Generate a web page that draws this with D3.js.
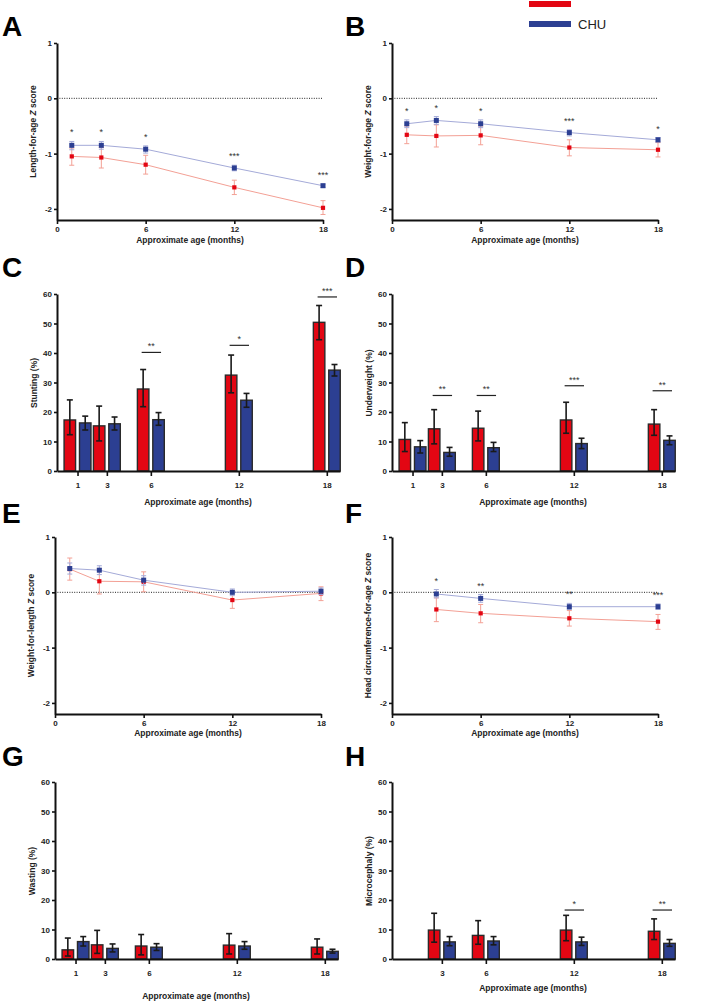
<!DOCTYPE html>
<html lang="en">
<head>
<meta charset="utf-8">
<script src="https://d3js.org/d3.v7.min.js"></script>
<style>
body { margin: 0; background: #fff; font-family: "Liberation Sans", Arial, sans-serif; }
.axis .domain { stroke: #111; stroke-width: 2; }
.axis .tick line { stroke: #111; stroke-width: 1.6; }
.axis .tick text { font-family: "Liberation Sans", Arial, sans-serif; font-weight: bold; font-size: 8px; fill: #222; }
.ttl { font-weight: bold; font-size: 8.5px; fill: #222; }
.letter { font-weight: bold; font-size: 28px; fill: #000; }
.star { font-size: 9px; fill: #333; text-anchor: middle; }
</style>
</head>
<body>
<script>

// legend groups (red has no label in the figure)
var groups = ["", "CHU"];

var monthsAll = [1, 3, 6, 12, 18];
var monthsHC = [3, 6, 12, 18];

// A: length-for-age Z score
var lazRed = [-1.05, -1.07, -1.20, -1.61, -1.98];
var lazRedLo = [-1.21, -1.26, -1.37, -1.74, -2.10];
var lazRedHi = [-0.90, -0.89, -1.03, -1.48, -1.85];
var lazBlue = [-0.85, -0.85, -0.92, -1.26, -1.58];
var lazBlueLo = [-0.93, -0.92, -0.99, -1.31, -1.61];
var lazBlueHi = [-0.78, -0.78, -0.86, -1.21, -1.55];
var lazStars = ["*", "*", "*", "***", "***"];

// B: weight-for-age Z score
var wazRed = [-0.66, -0.68, -0.67, -0.89, -0.93];
var wazRedLo = [-0.82, -0.88, -0.84, -1.04, -1.06];
var wazRedHi = [-0.50, -0.48, -0.50, -0.75, -0.80];
var wazBlue = [-0.46, -0.40, -0.46, -0.62, -0.75];
var wazBlueLo = [-0.53, -0.47, -0.53, -0.68, -0.79];
var wazBlueHi = [-0.39, -0.33, -0.39, -0.57, -0.71];
var wazStars = ["*", "*", "*", "***", "*"];

// C: stunting (%)
var stuRed = [17.3, 15.3, 27.8, 32.5, 50.4];
var stuRedLo = [12.3, 10.2, 21.8, 26.5, 44.5];
var stuRedHi = [24.1, 22.0, 34.4, 39.3, 56.1];
var stuBlue = [16.3, 16.0, 17.4, 24.0, 34.2];
var stuBlueLo = [13.9, 13.9, 15.5, 21.6, 32.2];
var stuBlueHi = [18.6, 18.3, 19.8, 26.3, 36.1];
var stuSig = ["", "", "**", "*", "***"];
var stuSigLevel = [0, 0, 40.2, 42.6, 59.0];

// D: underweight (%)
var undRed = [10.7, 14.3, 14.5, 17.3, 15.9];
var undRedLo = [6.6, 9.2, 10.2, 12.8, 12.1];
var undRedHi = [16.4, 20.8, 20.3, 23.3, 20.8];
var undBlue = [8.2, 6.3, 7.9, 9.3, 10.4];
var undBlueLo = [6.1, 5.0, 6.6, 7.6, 8.9];
var undBlueHi = [10.3, 8.0, 9.7, 11.1, 11.9];
var undSig = ["", "**", "**", "***", "**"];
var undSigLevel = [0, 25.6, 25.6, 28.9, 27.2];

// E: weight-for-length Z score
var wlzRed = [0.42, 0.20, 0.19, -0.14, -0.02];
var wlzRedLo = [0.22, -0.03, 0.01, -0.29, -0.15];
var wlzRedHi = [0.62, 0.43, 0.37, -0.01, 0.10];
var wlzBlue = [0.43, 0.40, 0.22, 0.00, 0.02];
var wlzBlueLo = [0.33, 0.32, 0.13, -0.06, -0.04];
var wlzBlueHi = [0.53, 0.48, 0.30, 0.06, 0.08];
var wlzStars = ["", "", "", "", ""];

// F: head circumference-for-age Z score
var hczRed = [-0.31, -0.38, -0.47, -0.53];
var hczRedLo = [-0.53, -0.55, -0.61, -0.67];
var hczRedHi = [-0.10, -0.22, -0.33, -0.40];
var hczBlue = [-0.03, -0.11, -0.26, -0.26];
var hczBlueLo = [-0.10, -0.18, -0.31, -0.31];
var hczBlueHi = [0.05, -0.04, -0.20, -0.21];
var hczStars = ["*", "**", "**", "***"];

// G: wasting (%)
var wasRed = [3.1, 4.8, 4.4, 4.7, 4.0];
var wasRedLo = [1.0, 1.9, 1.4, 1.7, 1.7];
var wasRedHi = [7.1, 9.7, 8.3, 8.6, 6.8];
var wasBlue = [5.9, 3.6, 4.0, 4.4, 2.6];
var wasBlueLo = [4.4, 2.4, 2.9, 3.3, 2.0];
var wasBlueHi = [7.6, 5.1, 5.2, 5.9, 3.3];
var wasSig = ["", "", "", "", ""];
var wasSigLevel = [0, 0, 0, 0, 0];

// H: microcephaly (%)
var micRed = [9.8, 8.0, 9.8, 9.4];
var micRedLo = [5.7, 5.0, 6.2, 6.6];
var micRedHi = [15.5, 13.0, 14.8, 13.6];
var micBlue = [5.8, 6.1, 5.8, 5.3];
var micBlueLo = [4.5, 4.8, 4.6, 4.3];
var micBlueHi = [7.6, 7.6, 7.4, 6.6];
var micSig = ["", "", "*", "**"];
var micSigLevel = [0, 0, 16.6, 16.6];

var RED = "#e30613", BLUE = "#2c3f92";
var RED_L = "#f3a095", BLUE_L = "#a4aad8";

var svg = d3.select("body").append("svg")
    .attr("width", 723)
    .attr("height", 1002);

function letter(t, x, y) {
  svg.append("text").attr("class", "letter").attr("x", x).attr("y", y).text(t);
}

function yTitle(x, y, parts) {
  var t = svg.append("text").attr("class", "ttl")
      .attr("text-anchor", "middle")
      .attr("transform", "translate(" + x + "," + y + ") rotate(-90)");
  parts.forEach(function(p) {
    t.append("tspan").style("font-style", p[1] ? "italic" : null).text(p[0]);
  });
}

function xTitle(x, y) {
  svg.append("text").attr("class", "ttl").attr("text-anchor", "middle")
    .attr("x", x).attr("y", y).text("Approximate age (months)");
}

// Z-score line panel
function zPanel(left, top, months, series, stars, ytitle, titleGap) {
  var bottom = top + 177;
  var x = d3.scaleLinear().domain([0, 18]).range([left, left + 266]);
  var y = d3.scaleLinear().domain([-2.2, 1]).range([bottom, top]);
  var g = svg.append("g");

  g.append("line")
    .attr("x1", x(0)).attr("x2", x(18))
    .attr("y1", y(0)).attr("y2", y(0))
    .attr("stroke", "#222").attr("stroke-width", 1)
    .attr("stroke-dasharray", "1,1.4");

  series.forEach(function(s) {
    var pts = months.map(function(m, i) { return {m: m, v: s.v[i], lo: s.lo[i], hi: s.hi[i]}; });
    g.append("path")
      .attr("d", d3.line().x(function(d) { return x(d.m); }).y(function(d) { return y(d.v); })(pts))
      .attr("fill", "none").attr("stroke", s.light).attr("stroke-width", 1);
    var eb = g.selectAll(null).data(pts).enter().append("g");
    eb.append("line").attr("x1", function(d) { return x(d.m); }).attr("x2", function(d) { return x(d.m); })
      .attr("y1", function(d) { return y(d.lo); }).attr("y2", function(d) { return y(d.hi); })
      .attr("stroke", s.light).attr("stroke-width", 1);
    [ "lo", "hi" ].forEach(function(k) {
      eb.append("line").attr("x1", function(d) { return x(d.m) - 2.5; }).attr("x2", function(d) { return x(d.m) + 2.5; })
        .attr("y1", function(d) { return y(d[k]); }).attr("y2", function(d) { return y(d[k]); })
        .attr("stroke", s.light).attr("stroke-width", 1);
    });
    g.selectAll(null).data(pts).enter().append("rect")
      .attr("x", function(d) { return x(d.m) - s.size / 2; })
      .attr("y", function(d) { return y(d.v) - s.size / 2; })
      .attr("width", s.size).attr("height", s.size)
      .attr("fill", s.color);
  });

  g.selectAll(null).data(months).enter().append("text")
    .attr("class", "star")
    .attr("x", function(m) { return x(m); })
    .attr("y", function(m, i) {
      return y(Math.max(series[0].hi[i], series[1].hi[i])) - 6;
    })
    .text(function(m, i) { return stars[i]; });

  g.append("g").attr("class", "axis")
    .attr("transform", "translate(" + left + ",0)")
    .call(d3.axisLeft(y).tickValues([-2, -1, 0, 1]).tickSize(3).tickSizeOuter(0).tickPadding(2)
      .tickFormat(function(d) { return String(d); }));
  g.append("g").attr("class", "axis")
    .attr("transform", "translate(0," + bottom + ")")
    .call(d3.axisBottom(x).tickValues([0, 6, 12, 18]).tickSize(4).tickSizeOuter(0).tickPadding(2));

  yTitle(left - 21, (top + bottom) / 2, ytitle);
  xTitle(x(9), bottom + titleGap);
}

// percentage bar panel
function pctPanel(left, zero, months, red, blue, sig, level, ytitle, titleGap) {
  var x = d3.scaleLinear().domain([-0.4, 18.9]).range([left, left + 283]);
  var y = d3.scaleLinear().domain([0, 60]).range([zero, zero - 177]);
  var g = svg.append("g");
  var bw = 11.5, off = 7.7;

  [ [red, RED, -off], [blue, BLUE, off] ].forEach(function(p) {
    var s = p[0], col = p[1], dx = p[2];
    var pts = months.map(function(m, i) { return {m: m, v: s.v[i], lo: s.lo[i], hi: s.hi[i]}; });
    g.selectAll(null).data(pts).enter().append("rect")
      .attr("x", function(d) { return x(d.m) + dx - bw / 2; })
      .attr("y", function(d) { return y(d.v); })
      .attr("width", bw)
      .attr("height", function(d) { return zero - y(d.v); })
      .attr("fill", col).attr("stroke", "#2a2a2a").attr("stroke-width", 1.4);
    var eb = g.selectAll(null).data(pts).enter().append("g").attr("stroke", "#1a1a1a").attr("stroke-width", 1.6);
    eb.append("line").attr("x1", function(d) { return x(d.m) + dx; }).attr("x2", function(d) { return x(d.m) + dx; })
      .attr("y1", function(d) { return y(d.lo); }).attr("y2", function(d) { return y(d.hi); });
    [ "lo", "hi" ].forEach(function(k) {
      eb.append("line").attr("x1", function(d) { return x(d.m) + dx - 3; }).attr("x2", function(d) { return x(d.m) + dx + 3; })
        .attr("y1", function(d) { return y(d[k]); }).attr("y2", function(d) { return y(d[k]); });
    });
  });

  months.forEach(function(m, i) {
    if (!sig[i]) return;
    var ly = y(level[i]);
    g.append("line")
      .attr("x1", x(m) - off - 1.5).attr("x2", x(m) + off + 2.5)
      .attr("y1", ly).attr("y2", ly)
      .attr("stroke", "#222").attr("stroke-width", 1.2);
    g.append("text").attr("class", "star")
      .attr("x", x(m) + 0.5).attr("y", ly - 3).text(sig[i]);
  });

  g.append("g").attr("class", "axis")
    .attr("transform", "translate(" + left + ",0)")
    .call(d3.axisLeft(y).tickValues([0, 10, 20, 30, 40, 50, 60]).tickSize(3).tickSizeOuter(0).tickPadding(2));
  g.append("g").attr("class", "axis")
    .attr("transform", "translate(0," + zero + ")")
    .call(d3.axisBottom(x).tickValues(months).tickSize(5).tickSizeOuter(0).tickPadding(6));

  yTitle(left - 20, zero - 88, ytitle);
  xTitle(left + 141, zero + titleGap);
}

function ser(v, lo, hi, color, light, size) {
  return {v: v, lo: lo, hi: hi, color: color, light: light, size: size};
}

// legend
var leg = svg.append("g").selectAll("g").data(groups).enter().append("g")
    .attr("transform", function(d, i) { return "translate(529," + (1 + i * 20) + ")"; });
leg.append("rect").attr("width", 42).attr("height", 6)
    .attr("fill", function(d, i) { return i ? BLUE : RED; });
leg.append("text").attr("x", 49).attr("y", 7.5)
    .style("font-size", "13px").style("fill", "#222")
    .text(function(d) { return d; });

letter("A", 2, 36); letter("B", 345, 36);
letter("C", 2, 277); letter("D", 345, 277);
letter("E", 2, 523); letter("F", 345, 523);
letter("G", 2, 766); letter("H", 345, 766);

zPanel(57, 43, monthsAll,
  [ser(lazRed, lazRedLo, lazRedHi, RED, RED_L, 4.2), ser(lazBlue, lazBlueLo, lazBlueHi, BLUE, BLUE_L, 5)],
  lazStars, [["Length-for-age "], ["Z", true], [" score"]], 23);
zPanel(392, 43, monthsAll,
  [ser(wazRed, wazRedLo, wazRedHi, RED, RED_L, 4.2), ser(wazBlue, wazBlueLo, wazBlueHi, BLUE, BLUE_L, 5)],
  wazStars, [["Weight-for-age "], ["Z", true], [" score"]], 23);

pctPanel(57, 471, monthsAll,
  {v: stuRed, lo: stuRedLo, hi: stuRedHi}, {v: stuBlue, lo: stuBlueLo, hi: stuBlueHi},
  stuSig, stuSigLevel, [["Stunting (%)"]], 34);
pctPanel(392, 471, monthsAll,
  {v: undRed, lo: undRedLo, hi: undRedHi}, {v: undBlue, lo: undBlueLo, hi: undBlueHi},
  undSig, undSigLevel, [["Underweight (%)"]], 34);

zPanel(55, 537, monthsAll,
  [ser(wlzRed, wlzRedLo, wlzRedHi, RED, RED_L, 4.2), ser(wlzBlue, wlzBlueLo, wlzBlueHi, BLUE, BLUE_L, 5)],
  wlzStars, [["Weight-for-length "], ["Z", true], [" score"]], 22);
zPanel(392, 537, monthsHC,
  [ser(hczRed, hczRedLo, hczRedHi, RED, RED_L, 4.2), ser(hczBlue, hczBlueLo, hczBlueHi, BLUE, BLUE_L, 5)],
  hczStars, [["Head circumference-for-age "], ["Z", true], [" score"]], 22);

pctPanel(55, 959, monthsAll,
  {v: wasRed, lo: wasRedLo, hi: wasRedHi}, {v: wasBlue, lo: wasBlueLo, hi: wasBlueHi},
  wasSig, wasSigLevel, [["Wasting (%)"]], 40);
pctPanel(392, 959, monthsHC,
  {v: micRed, lo: micRedLo, hi: micRedHi}, {v: micBlue, lo: micBlueLo, hi: micBlueHi},
  micSig, micSigLevel, [["Microcephaly (%)"]], 32);

</script>
</body>
</html>
